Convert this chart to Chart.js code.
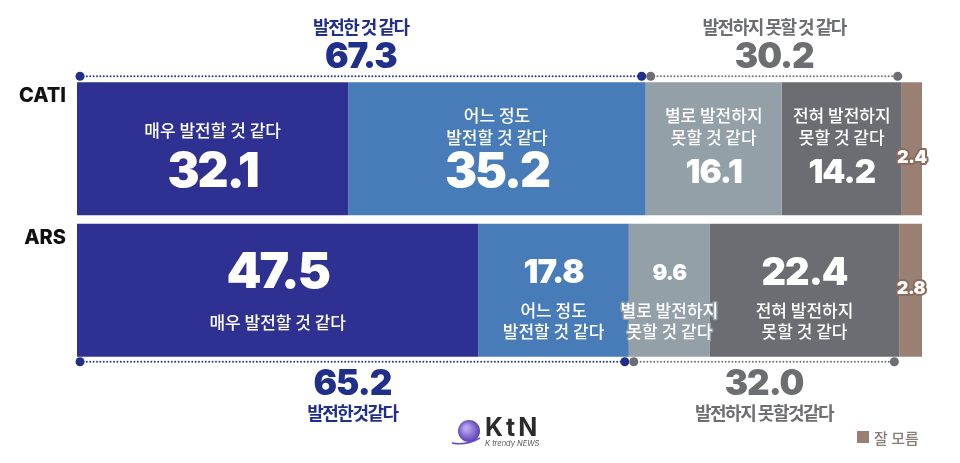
<!DOCTYPE html>
<html>
<head>
<meta charset="utf-8">
<script src="https://cdn.jsdelivr.net/npm/chart.js@4/dist/chart.umd.min.js"></script>
<style>
  html, body { margin: 0; padding: 0; background: #fff; }
  #wrap { width: 960px; height: 463px; position: relative; }
</style>
</head>
<body>
<div id="wrap"><canvas id="myChart" width="960" height="463"></canvas></div>
<script>
// data
const categories = ["CATI", "ARS"];
const seriesNames = [
  "매우 발전할 것 같다",
  "어느 정도 발전할 것 같다",
  "별로 발전하지 못할 것 같다",
  "전혀 발전하지 못할 것 같다",
  "잘 모름"
];
const veryLikely = [32.1, 47.5];
const somewhatLikely = [35.2, 17.8];
const notVeryLikely = [16.1, 9.6];
const notAtAll = [14.2, 22.4];
const dontKnow = [2.4, 2.8];
const positiveTotals = [67.3, 65.2];
const negativeTotals = [30.2, 32.0];
const positiveLabels = ["발전한 것 같다", "발전한것같다"];
const negativeLabels = ["발전하지 못할 것 같다", "발전하지 못할것같다"];

// styles
const colors = ["#2E3192", "#477CB9", "#93A0A8", "#6C6D72", "#9A8073"];
const segLines = [
  ["매우 발전할 것 같다"],
  ["어느 정도", "발전할 것 같다"],
  ["별로 발전하지", "못할 것 같다"],
  ["전혀 발전하지", "못할 것 같다"]
];
const valueSizes = [[48, 48, 33, 33], [50, 33, 22, 38]];
const numFont = "Inter, 'Noto Sans', sans-serif";
const krFont = "'Noto Sans CJK KR', 'Noto Sans', sans-serif";

function dotted(ctx, x1, x2, y, color) {
  ctx.fillStyle = color;
  for (let x = x1; x <= x2; x += 3.4) {
    ctx.beginPath();
    ctx.arc(x, y, 0.95, 0, Math.PI * 2);
    ctx.fill();
  }
  [x1, x2].forEach(px => {
    ctx.beginPath();
    ctx.arc(px, y, 4.5, 0, Math.PI * 2);
    ctx.fill();
  });
}

const overlay = {
  id: "overlay",
  afterDatasetsDraw(chart) {
    const ctx = chart.ctx;
    const xs = chart.scales.x;
    ctx.save();
    ctx.textAlign = "center";
    ctx.textBaseline = "middle";

    categories.forEach((cat, row) => {
      const first = chart.getDatasetMeta(0).data[row].getProps(["y", "height"], true);
      const top = first.y - first.height / 2;
      const bottom = first.y + first.height / 2;

      // category label
      ctx.textAlign = "right";
      ctx.fillStyle = "#111";
      ctx.font = "800 20px " + numFont;
      ctx.fillText(cat, 66, top + 14);
      ctx.textAlign = "center";

      // segment labels
      for (let d = 0; d < 4; d++) {
        const b = chart.getDatasetMeta(d).data[row].getProps(["x", "y", "base"], true);
        const cx = (b.x + b.base) / 2;
        const val = chart.data.datasets[d].data[row].toFixed(1);
        const lines = segLines[d];
        ctx.lineJoin = "round";
        let numY, lineYs;
        if (row === 0) {
          numY = b.y + 24;
          lineYs = lines.length === 1 ? [b.y - 18] : [b.y - 33, b.y - 11];
        } else {
          numY = b.y - 17;
          lineYs = lines.length === 1 ? [b.y + 32] : [b.y + 20, b.y + 41];
        }
        ctx.font = "900 " + valueSizes[row][d] + "px " + numFont;
        ctx.letterSpacing = valueSizes[row][d] > 40 ? "-2px" : "-1px";
        ctx.fillStyle = "#fff";
        ctx.fillText(val, cx, numY);
        ctx.letterSpacing = "0px";
        ctx.font = "500 17px " + krFont;
        lines.forEach((t, i) => {
          if (row === 1 && d === 2) {
            ctx.strokeStyle = "#93A0A8";
            ctx.lineWidth = 3;
            ctx.strokeText(t, cx, lineYs[i]);
          }
          ctx.fillStyle = "#fff";
          ctx.fillText(t, cx, lineYs[i]);
        });
      }

      // don't know small label
      const k = chart.getDatasetMeta(4).data[row].getProps(["x", "y", "base"], true);
      ctx.font = "900 18px " + numFont;
      ctx.letterSpacing = "-0.5px";
      ctx.strokeStyle = "#8B6B5C";
      ctx.lineWidth = 4;
      const ky = k.y + (row === 0 ? 9 : -2);
      ctx.strokeText(dontKnow[row].toFixed(1), (k.x + k.base) / 2, ky);
      ctx.fillStyle = "#fff";
      ctx.fillText(dontKnow[row].toFixed(1), (k.x + k.base) / 2, ky);
      ctx.letterSpacing = "0px";

      // totals with dotted lines
      const posEnd = xs.getPixelForValue(veryLikely[row] + somewhatLikely[row]);
      const negEnd = xs.getPixelForValue(100 - dontKnow[row]);
      const x0 = xs.getPixelForValue(0) + 3;
      const lineY = row === 0 ? top - 6 : bottom + 5;
      dotted(ctx, x0, posEnd - 4, lineY, "#1F2F8A");
      dotted(ctx, posEnd + 5, negEnd - 4, lineY, "#6D6E71");

      const groups = [
        [positiveTotals[row], positiveLabels[row], (x0 + posEnd - 4) / 2, "#1F2F8A"],
        [negativeTotals[row], negativeLabels[row], (posEnd + negEnd + 1) / 2, "#6D6E71"]
      ];
      groups.forEach(([v, lbl, gx, col]) => {
        ctx.fillStyle = col;
        const numY2 = row === 0 ? lineY - 19 : lineY + 23;
        const lblY = row === 0 ? lineY - 49 : lineY + 51;
        ctx.font = "900 35px " + numFont;
        ctx.letterSpacing = "-1px";
        ctx.fillText(v.toFixed(1), gx, numY2);
        ctx.font = "bold 18px " + krFont;
        ctx.letterSpacing = "-1.5px";
        ctx.fillText(lbl, gx, lblY);
        ctx.letterSpacing = "0px";
      });
    });

    // legend for 잘 모름
    ctx.fillStyle = colors[4];
    ctx.fillRect(857, 431, 12, 12);
    ctx.textAlign = "left";
    ctx.fillStyle = "#8a7d76";
    ctx.font = "500 15px " + krFont;
    ctx.fillText(seriesNames[4], 874, 438);

    // logo
    const g = ctx.createRadialGradient(466, 428, 2, 469, 431, 13);
    g.addColorStop(0, "#b9a6f0");
    g.addColorStop(1, "#4f2fa8");
    ctx.fillStyle = g;
    ctx.beginPath();
    ctx.arc(469, 431, 11, 0, Math.PI * 2);
    ctx.fill();
    ctx.strokeStyle = "#6a4cc0";
    ctx.lineWidth = 1.5;
    ctx.beginPath();
    ctx.moveTo(452, 443);
    ctx.quadraticCurveTo(466, 446, 480, 438);
    ctx.stroke();
    ctx.fillStyle = "#2b2b2b";
    ctx.font = "700 25px " + numFont;
    ctx.letterSpacing = "3px";
    ctx.textBaseline = "alphabetic";
    ctx.fillText("KtN", 485, 436);
    ctx.letterSpacing = "0px";
    ctx.font = "italic 7.5px " + numFont;
    ctx.fillStyle = "#555";
    ctx.fillText("K trendy NEWS", 485, 446);
    ctx.restore();
  }
};

let ctx = document.getElementById("myChart").getContext("2d");
let chart = new Chart(ctx, {
  type: "bar",
  data: {
    labels: categories,
    datasets: [veryLikely, somewhatLikely, notVeryLikely, notAtAll, dontKnow].map((d, i) => ({
      label: seriesNames[i],
      data: d,
      backgroundColor: colors[i],
      borderWidth: 0,
      barPercentage: 0.94,
      categoryPercentage: 1
    }))
  },
  options: {
    indexAxis: "y",
    responsive: false,
    animation: false,
    layout: { padding: { left: 77, right: 38, top: 78, bottom: 102 } },
    scales: {
      x: { stacked: true, min: 0, max: 100, display: false },
      y: { stacked: true, display: false }
    },
    plugins: { legend: { display: false }, tooltip: { enabled: false } }
  },
  plugins: [overlay]
});
</script>
</body>
</html>
